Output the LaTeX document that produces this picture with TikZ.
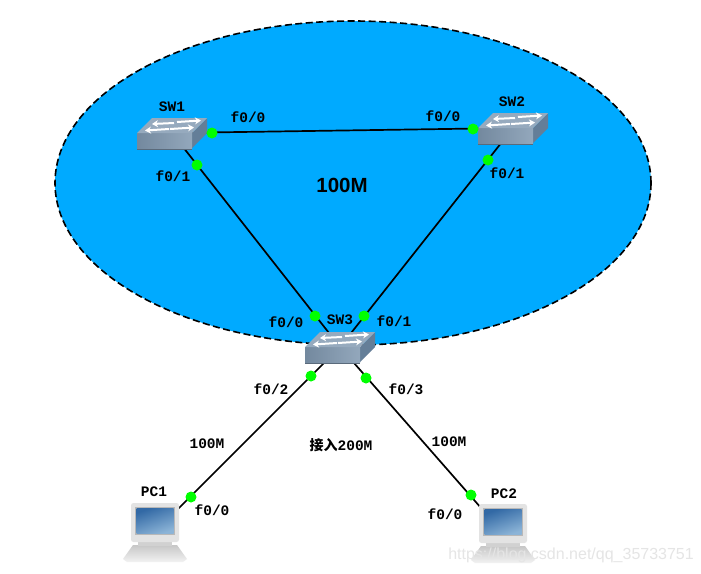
\documentclass[tikz,border=0pt]{standalone}
\usepackage{fontspec}
\setmainfont{Liberation Sans}
\newfontfamily\labelfont{Liberation Mono}
\newfontfamily\cjkfont{Noto Sans CJK SC}
\usetikzlibrary{arrows.meta}
\definecolor{lakeblue}{RGB}{0,170,255}
\definecolor{swfront}{RGB}{128,152,176}
\definecolor{swtop}{RGB}{150,170,190}
\definecolor{swside}{RGB}{100,126,152}
\definecolor{portgreen}{RGB}{0,255,0}
\definecolor{scrdark}{RGB}{50,105,165}
\definecolor{scrlight}{RGB}{140,180,215}
\tikzset{
  x=1pt,y=-1pt,
  link/.style={draw=black,line width=1.7pt},
  hub/.style={inner sep=0pt,minimum size=0pt,outer sep=0pt},
  port/.style={circle,fill=portgreen,inner sep=0pt,minimum size=11pt},
  lbl/.style={font=\labelfont\bfseries\fontsize{14.5}{15}\selectfont,inner sep=0pt,text=black},
  swarrow/.style={draw=white,line width=2pt,-{Stealth[length=6pt,width=7pt]}},
  pics/switchicon/.style={code={
    \fill[swfront!70!black] (-35,2)--(20,2)--(20,17)--(-35,17)--cycle;
    \fill[swside] (20,15)--(35,0)--(35,-15)--(20,0)--cycle;
    \shade[left color=swfront!90!black,right color=swfront!85!white] (-35,0)--(20,0)--(20,15)--(-35,15)--cycle;
    \fill[swtop] (-35,0)--(-20,-15)--(35,-15)--(20,0)--cycle;
    \draw[swarrow] (2,-10)--(-20,-9);
    \draw[swarrow] (5,-11)--(29,-12.5);
    \draw[swarrow] (-3,-4)--(-27,-2.5);
    \draw[swarrow] (-2,-4)--(22,-5.5);
  }},
  pics/pcicon/.style={code={
    \shade[top color=black!22,bottom color=black!5] (-22,13)--(22,13)--(32,27)--(28,30)--(-28,30)--(-32,27)--cycle;
    \fill[black!18] (-17,10)--(17,10)--(17,14)--(-17,14)--cycle;
    \fill[black!11,rounded corners=2.5pt] (-24,-29)--(24,-29)--(24,10)--(-24,10)--cycle;
    \fill[black!28] (-20,-25)--(20,-25)--(20,3)--(-20,3)--cycle;
    \shade[left color=scrdark,right color=scrlight,shading angle=20] (-18.5,-23.5)--(18.5,-23.5)--(18.5,1.5)--(-18.5,1.5)--cycle;
  }}
}
\begin{document}
\begin{tikzpicture}
\useasboundingbox (0,0) rectangle (701,573);
\fill[white] (0,0) rectangle (701,573);
\draw[fill=lakeblue,draw=black,line width=1.6pt,dash pattern=on 7pt off 3.5pt] (353,183) ellipse [x radius=298,y radius=162];

\node[hub] (sw1) at (172,133) {};
\node[hub] (sw2) at (513,128) {};
\node[hub] (sw3) at (340,347) {};
\node[hub] (pc1) at (155,532) {};
\node[hub] (pc2) at (503,533) {};

\draw[link] (sw1) -- (sw2);
\draw[link] (sw1) -- (sw3);
\draw[link] (sw2) -- (sw3);
\draw[link] (sw3) -- (pc1);
\draw[link] (sw3) -- (pc2);

\pic at (sw1) {switchicon};
\pic at (sw2) {switchicon};
\pic at (sw3) {switchicon};
\pic at (pc1) {pcicon};
\pic at (pc2) {pcicon};

\node[port] (p1) at (212,133) {};
\node[port] (p2) at (197,165) {};
\node[port] (p3) at (473,129) {};
\node[port] (p4) at (488,160) {};
\node[port] (p5) at (315,316) {};
\node[port] (p6) at (364,316) {};
\node[port] (p7) at (311,376) {};
\node[port] (p8) at (366,378) {};
\node[port] (p9) at (191,497) {};
\node[port] (p10) at (471,495) {};

\node[lbl] (t1) at (172,107) {SW1};
\node[lbl] (t2) at (512,102) {SW2};
\node[lbl] (t3) at (340,320) {SW3};
\node[lbl] (t4) at (154,492) {PC1};
\node[lbl] (t5) at (504,494) {PC2};
\node[lbl] (t6) at (248,117) {f0/0};
\node[lbl] (t7) at (443,116) {f0/0};
\node[lbl] (t8) at (173,176) {f0/1};
\node[lbl] (t9) at (507,173) {f0/1};
\node[lbl] (t10) at (286,322) {f0/0};
\node[lbl] (t11) at (394,321) {f0/1};
\node[lbl] (t12) at (271,389) {f0/2};
\node[lbl] (t13) at (406,389) {f0/3};
\node[lbl] (t14) at (212,510) {f0/0};
\node[lbl] (t15) at (445,514) {f0/0};
\node[lbl] (t16) at (207,444) {100M};
\node[lbl] (t17) at (449,442) {100M};
\node[lbl,font=\cjkfont\bfseries\fontsize{14}{15}\selectfont] (t18) at (341,445) {接入{\labelfont\bfseries\fontsize{14.5}{15}\selectfont 200M}};
\node[inner sep=0pt,font=\bfseries\fontsize{20.5}{22}\selectfont] (t19) at (342,185) {100M};
\node[inner sep=0pt,text=black!10,font=\fontsize{16}{17}\selectfont,anchor=east] (t20) at (694,555) {https://blog.csdn.net/qq\_35733751};
\end{tikzpicture}
\end{document}
